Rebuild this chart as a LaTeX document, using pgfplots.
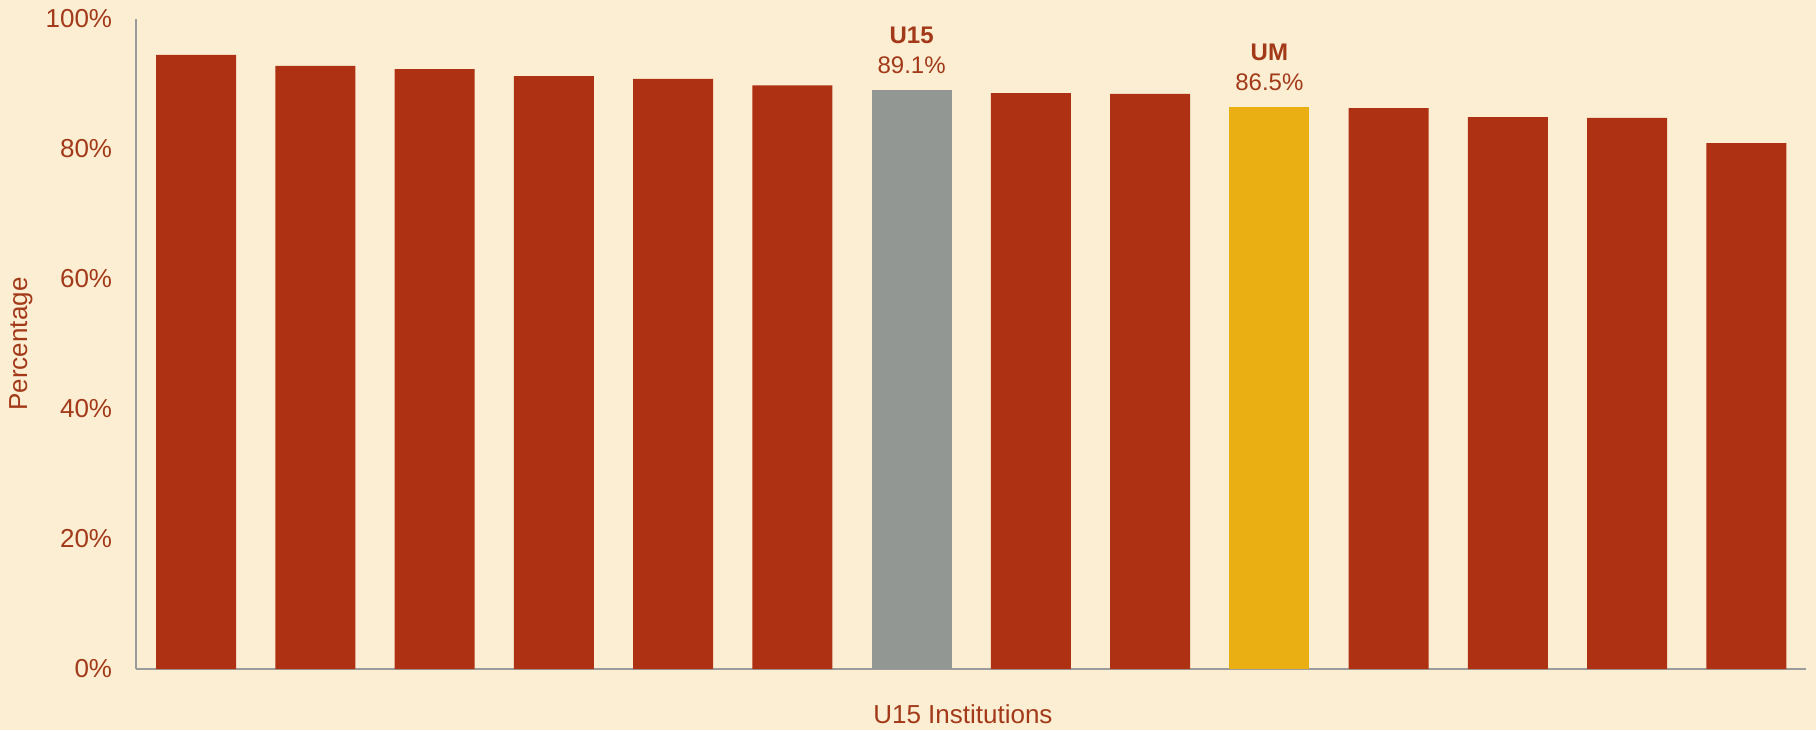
\documentclass[border=0pt]{standalone}
\usepackage{fontspec}
\setmainfont{Liberation Sans}
\usepackage{pgfplots}
\pgfplotsset{compat=1.18}
\definecolor{bg}{HTML}{FCEED3}
\definecolor{barred}{HTML}{AD3112}
\definecolor{bargray}{HTML}{939793}
\definecolor{bargold}{HTML}{EAAF12}
\definecolor{txt}{HTML}{A23A1A}
\definecolor{axgray}{HTML}{9C9C9C}
\begin{document}
\begin{tikzpicture}[x=1pt,y=1pt]
\fill[bg] (0,0) rectangle (908,365);
\begin{axis}[
  at={(68.25pt,30.5pt)}, anchor=south west,
  width=834.75pt, height=325pt, scale only axis,
  xmin=-0.5, xmax=13.5, ymin=0, ymax=100,
  axis x line=bottom, axis y line=left,
  axis line style={-, draw=axgray, line width=1pt},
  xtick=\empty,
  ytick={0,20,40,60,80,100},
  yticklabels={0\%,20\%,40\%,60\%,80\%,100\%},
  major tick length=0pt,
  yticklabel style={font=\fontsize{13}{15}\selectfont, text=txt, inner sep=0pt, xshift=-12pt},
  ylabel={Percentage},
  ylabel style={at={(axis description cs:-0.0692,0.5)}, anchor=center, font=\fontsize{13}{15}\selectfont, text=txt},
  xlabel={U15 Institutions},
  xlabel style={at={(axis description cs:0.495,-0.0702)}, anchor=center, font=\fontsize{13}{15}\selectfont, text=txt},
  every node near coord/.append style={align=center, font=\fontsize{12}{15}\selectfont, text=txt, anchor=south, inner sep=0pt, yshift=8pt},
  clip=false,
]
\addplot[ybar, fill=barred, draw=none, bar width=40pt, bar shift=0pt] coordinates {
  (0,94.5) (1,92.8) (2,92.3) (3,91.2) (4,90.8) (5,89.8)
  (7,88.6) (8,88.5) (10,86.3) (11,84.9) (12,84.8) (13,80.9)};
\addplot[ybar, fill=bargray, draw=none, bar width=40pt, bar shift=0pt,
  nodes near coords={\textbf{U15}\\89.1\%}] coordinates {(6,89.1)};
\addplot[ybar, fill=bargold, draw=none, bar width=40pt, bar shift=0pt,
  nodes near coords={\textbf{UM}\\86.5\%}] coordinates {(9,86.5)};
\end{axis}
\pgfresetboundingbox
\useasboundingbox (0,0) rectangle (908,365);
\end{tikzpicture}
\end{document}
